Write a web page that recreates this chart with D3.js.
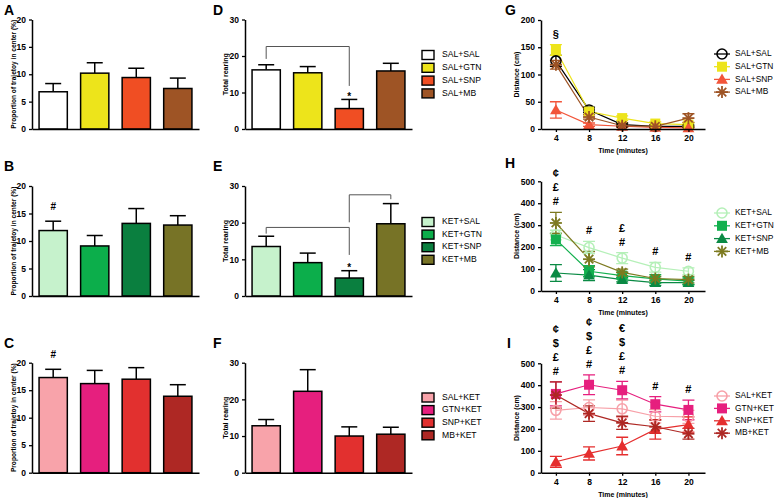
<!DOCTYPE html>
<html>
<head>
<meta charset="utf-8">
<script src="https://d3js.org/d3.v7.min.js"></script>
<style>
  body { margin: 0; background: #fff; }
  text { font-family: Arial, "Liberation Sans", sans-serif; }
</style>
</head>
<body>
<script>
// ---- data ----
const groupsA = ["SAL+SAL", "SAL+GTN", "SAL+SNP", "SAL+MB"];
const groupsB = ["KET+SAL", "KET+GTN", "KET+SNP", "KET+MB"];
const groupsC = ["SAL+KET", "GTN+KET", "SNP+KET", "MB+KET"];

const colorsA = ["#ffffff", "#ede41b", "#f04e23", "#9e5425"];
const colorsB = ["#c6f2cc", "#0cae4b", "#0a7f3f", "#777326"];
const colorsC = ["#f8a3aa", "#e61f7e", "#e2302f", "#ae2824"];

// proportion of trajectory in center (%)
const centerA = [6.8, 10.2, 9.4, 7.4];
const centerSemA = [1.5, 1.9, 1.7, 1.9];
const centerB = [11.9, 9.1, 13.2, 12.9];
const centerSemB = [1.7, 1.9, 2.7, 1.7];
const centerC = [17.3, 16.2, 17.0, 13.9];
const centerSemC = [1.5, 2.4, 2.1, 2.1];

// total rearing
const rearD = [16.2, 15.4, 5.6, 15.9];
const rearSemD = [1.4, 1.7, 2.5, 2.1];
const rearE = [13.5, 9.1, 4.9, 19.7];
const rearSemE = [2.8, 2.6, 2.0, 5.5];
const rearF = [12.8, 22.2, 10.0, 10.5];
const rearSemF = [1.7, 5.9, 2.5, 1.9];

// distance (cm) over time
const times = [4, 8, 12, 16, 20];
const distG = [
  [125, 35, 8, 5, 5],
  [145, 32, 20, 10, 8],
  [35, 8, 5, 3, 2],
  [118, 22, 6, 5, 20]
];
const distSemG = [
  [10, 5, 3, 2, 2],
  [10, 5, 4, 3, 3],
  [15, 3, 2, 2, 2],
  [8, 4, 3, 3, 8]
];
const distH = [
  [255, 198, 150, 108, 90],
  [235, 90, 70, 55, 45],
  [82, 72, 52, 38, 38],
  [310, 145, 85, 57, 52]
];
const distSemH = [
  [22, 28, 25, 22, 15],
  [28, 25, 15, 20, 15],
  [38, 25, 10, 12, 10],
  [48, 35, 15, 10, 15]
];
const distI = [
  [285, 298, 292, 258, 255],
  [360, 402, 377, 313, 287],
  [50, 88, 122, 198, 220],
  [355, 270, 228, 210, 178]
];
const distSemI = [
  [40, 35, 40, 30, 30],
  [55, 45, 40, 35, 45],
  [25, 30, 40, 45, 35],
  [60, 35, 30, 30, 25]
];
const lineColorsG = ["#000000", "#ede41b", "#f2553a", "#9e5425"];
const lineColorsH = ["#b5f0b8", "#13b04e", "#0a8a44", "#7d7a20"];
const lineColorsI = ["#f7a0a8", "#e61f7e", "#e52e2e", "#ae2824"];
const markers = ["circle", "square", "triangle", "asterisk"];

// significance marks (bottom to top)
const marksG = [["§"], [], [], [], []];
const marksH = [["#", "£", "¢"], ["#"], ["#", "£"], ["#"], ["#"]];
const marksI = [["#", "£", "$", "¢"], ["#", "£", "$", "¢"], ["#", "£", "$", "€"], ["#"], ["#"]];

const svg = d3.select("body").append("svg")
    .attr("width", 778)
    .attr("height", 498);

function letter(t, x, y) {
  svg.append("text").attr("x", x).attr("y", y)
    .attr("font-size", 14).attr("font-weight", "bold").text(t);
}

function styleAxis(g) {
  g.select(".domain").attr("stroke", "#000").attr("stroke-width", 1.5);
  g.selectAll(".tick line").attr("stroke", "#000").attr("stroke-width", 1.3);
  g.selectAll(".tick text").attr("font-size", 8.5).attr("font-weight", "bold")
    .attr("font-family", "Arial, 'Liberation Sans', sans-serif").attr("fill", "#000");
}

function yLabel(t, x, yc, size) {
  svg.append("text")
    .attr("transform", "translate(" + x + "," + yc + ") rotate(-90)")
    .attr("text-anchor", "middle").attr("dominant-baseline", "middle")
    .attr("font-size", size).attr("font-weight", "bold").text(t);
}

function barPanel(o) {
  const g = svg.append("g");
  const x = d3.scaleBand().domain(o.cats).range([o.x0, o.x1])
    .paddingInner(0.32).paddingOuter(0.17);
  const y = d3.scaleLinear().domain([0, o.max]).range([o.yBot, o.yTop]);

  // error bars (upper only)
  o.cats.forEach(function(c, i) {
    const cx = x(c) + x.bandwidth() / 2;
    g.append("line").attr("x1", cx).attr("x2", cx)
      .attr("y1", y(o.mean[i])).attr("y2", y(o.mean[i] + o.sem[i]))
      .attr("stroke", "#000").attr("stroke-width", 1.5);
    g.append("line").attr("x1", cx - 8).attr("x2", cx + 8)
      .attr("y1", y(o.mean[i] + o.sem[i])).attr("y2", y(o.mean[i] + o.sem[i]))
      .attr("stroke", "#000").attr("stroke-width", 1.5);
  });

  g.selectAll("rect.bar").data(o.cats).enter().append("rect")
    .attr("class", "bar")
    .attr("x", function(d) { return x(d); })
    .attr("y", function(d, i) { return y(o.mean[i]); })
    .attr("width", x.bandwidth())
    .attr("height", function(d, i) { return y(0) - y(o.mean[i]); })
    .attr("fill", function(d, i) { return o.colors[i]; })
    .attr("stroke", "#000").attr("stroke-width", 1.5);

  const ya = g.append("g").attr("transform", "translate(" + o.x0 + ",0)")
    .call(d3.axisLeft(y).tickValues(o.ticks).tickSize(3).tickSizeOuter(0));
  styleAxis(ya);
  const xa = g.append("g").attr("transform", "translate(0," + o.yBot + ")")
    .call(d3.axisBottom(x).tickValues([]).tickSizeOuter(0));
  styleAxis(xa);

  yLabel(o.ylabel, o.ylabelX, (o.yTop + o.yBot) / 2, o.ylabelSize);

  // hash marks above bars
  (o.hash || []).forEach(function(h) {
    const cx = x(o.cats[h.i]) + x.bandwidth() / 2;
    g.append("text").attr("x", cx).attr("y", y(o.mean[h.i] + o.sem[h.i]) - 11)
      .attr("text-anchor", "middle").attr("font-size", 10).attr("font-weight", "bold")
      .text(h.t);
  });

  // comparison brackets
  (o.brackets || []).forEach(function(b) {
    const xa0 = x(o.cats[b.a]) + x.bandwidth() / 2;
    const xb0 = x(o.cats[b.b]) + x.bandwidth() / 2;
    g.append("path")
      .attr("d", "M" + xa0 + "," + y(b.endA) + "V" + y(b.level) + "H" + xb0 + "V" + y(b.endB))
      .attr("fill", "none").attr("stroke", "#555").attr("stroke-width", 1);
  });
  (o.stars || []).forEach(function(i) {
    const cx = x(o.cats[i]) + x.bandwidth() / 2;
    g.append("text").attr("x", cx).attr("y", y(o.mean[i] + o.sem[i]) + 0.5)
      .attr("text-anchor", "middle").attr("font-size", 10).attr("font-weight", "bold")
      .text("*");
  });

  // legend
  if (o.legX === undefined) return;
  const lg = svg.append("g");
  o.cats.forEach(function(c, i) {
    const ly = o.legY + i * o.legStep;
    lg.append("rect").attr("x", o.legX).attr("y", ly - 4.5).attr("width", 12).attr("height", 9)
      .attr("fill", o.colors[i]).attr("stroke", "#000").attr("stroke-width", 1.4);
    lg.append("text").attr("x", o.legX + 20).attr("y", ly).attr("dominant-baseline", "middle")
      .attr("font-size", 8.6).text(c);
  });
}

function drawMarker(g, type, color, cx, cy) {
  if (type === "circle") {
    g.append("circle").attr("cx", cx).attr("cy", cy).attr("r", 5)
      .attr("fill", "none").attr("stroke", color).attr("stroke-width", 1.6);
  } else if (type === "square") {
    g.append("rect").attr("x", cx - 5).attr("y", cy - 5).attr("width", 10).attr("height", 10)
      .attr("fill", color);
  } else if (type === "triangle") {
    g.append("path").attr("transform", "translate(" + cx + "," + (cy + 1) + ")")
      .attr("d", d3.symbol().type(d3.symbolTriangle).size(60)()).attr("fill", color);
  } else {
    [0, 45, 90, 135].forEach(function(a) {
      const r = a * Math.PI / 180, l = 6;
      g.append("line")
        .attr("x1", cx - l * Math.cos(r)).attr("y1", cy - l * Math.sin(r))
        .attr("x2", cx + l * Math.cos(r)).attr("y2", cy + l * Math.sin(r))
        .attr("stroke", color).attr("stroke-width", 1.8);
    });
  }
}

function linePanel(o) {
  const g = svg.append("g");
  const x = d3.scaleLinear().domain([2.2, 22]).range([o.x0, o.x1]);
  const y = d3.scaleLinear().domain([0, o.max]).range([o.yBot, o.yTop]);
  const line = d3.line().x(function(d, i) { return x(times[i]); }).y(function(d) { return y(d); });

  o.series.forEach(function(s, k) {
    g.append("path").datum(s).attr("d", line)
      .attr("fill", "none").attr("stroke", o.colors[k]).attr("stroke-width", 1.2);
  });
  o.series.forEach(function(s, k) {
    s.forEach(function(v, i) {
      const e = o.sem[k][i], cx = x(times[i]);
      g.append("path")
        .attr("d", "M" + (cx - 6) + "," + y(v + e) + "H" + (cx + 6) +
                   "M" + cx + "," + y(v + e) + "V" + y(Math.max(0, v - e)) +
                   "M" + (cx - 6) + "," + y(Math.max(0, v - e)) + "H" + (cx + 6))
        .attr("fill", "none").attr("stroke", o.colors[k]).attr("stroke-width", 1.3);
    });
  });
  o.series.forEach(function(s, k) {
    s.forEach(function(v, i) {
      drawMarker(g, markers[k], o.colors[k], x(times[i]), y(v));
    });
  });

  const ya = g.append("g").attr("transform", "translate(" + o.x0 + ",0)")
    .call(d3.axisLeft(y).tickValues(o.ticks).tickSize(3).tickSizeOuter(0));
  styleAxis(ya);
  const xa = g.append("g").attr("transform", "translate(0," + o.yBot + ")")
    .call(d3.axisBottom(x).tickValues(times).tickSize(3).tickSizeOuter(0));
  styleAxis(xa);

  yLabel("Distance (cm)", o.x0 - 24, (o.yTop + o.yBot) / 2, 7);
  svg.append("text").attr("x", (o.x0 + o.x1) / 2).attr("y", o.yBot + 24)
    .attr("text-anchor", "middle").attr("font-size", 7).attr("font-weight", "bold")
    .text("Time (minutes)");

  // significance marks
  o.marks.forEach(function(m, i) {
    let top = 0;
    o.series.forEach(function(s, k) { top = Math.max(top, s[i] + o.sem[k][i]); });
    m.forEach(function(t, j) {
      g.append("text").attr("x", x(times[i])).attr("y", y(top) - 7 - j * 14)
        .attr("text-anchor", "middle").attr("font-size", 11).attr("font-weight", "bold")
        .text(t);
    });
  });

  // legend
  const lg = svg.append("g");
  o.names.forEach(function(n, k) {
    const ly = o.legY + k * o.legStep;
    lg.append("line").attr("x1", o.legX - 8).attr("x2", o.legX + 8).attr("y1", ly).attr("y2", ly)
      .attr("stroke", o.colors[k]).attr("stroke-width", 1.3);
    drawMarker(lg, markers[k], o.colors[k], o.legX, ly);
    lg.append("text").attr("x", o.legX + 13).attr("y", ly).attr("dominant-baseline", "middle")
      .attr("font-size", 8.4).text(n);
  });
}

const propLabel = "Proportion of trajetoy in center (%)";

// row 1
barPanel({cats: groupsA, mean: centerA, sem: centerSemA, colors: colorsA,
  x0: 32, x1: 199, yTop: 19.5, yBot: 129, max: 20, ticks: [0, 5, 10, 15, 20],
  ylabel: propLabel, ylabelX: 14, ylabelSize: 6.6});
barPanel({cats: groupsA, mean: rearD, sem: rearSemD, colors: colorsA,
  x0: 245, x1: 412, yTop: 19.5, yBot: 129, max: 30, ticks: [0, 10, 20, 30],
  ylabel: "Total rearing", ylabelX: 226, ylabelSize: 7, legX: 422, legY: 55, legStep: 12.8,
  brackets: [{a: 0, b: 2, level: 22.6, endA: 19.2, endB: 11.8}], stars: [2]});
linePanel({series: distG, sem: distSemG, colors: lineColorsG, names: groupsA, marks: marksG,
  x0: 541, x1: 705, yTop: 20, yBot: 129, max: 200, ticks: [0, 50, 100, 150, 200],
  legX: 722, legY: 54, legStep: 12.7});

// row 2
barPanel({cats: groupsB, mean: centerB, sem: centerSemB, colors: colorsB,
  x0: 32, x1: 199, yTop: 186, yBot: 296, max: 20, ticks: [0, 5, 10, 15, 20],
  ylabel: propLabel, ylabelX: 14, ylabelSize: 6.6, hash: [{i: 0, t: "#"}]});
barPanel({cats: groupsB, mean: rearE, sem: rearSemE, colors: colorsB,
  x0: 245, x1: 412, yTop: 186, yBot: 296, max: 30, ticks: [0, 10, 20, 30],
  ylabel: "Total rearing", ylabelX: 226, ylabelSize: 7, legX: 422, legY: 222, legStep: 12.6,
  brackets: [{a: 0, b: 2, level: 18.7, endA: 17.0, endB: 11.2},
             {a: 2, b: 3, level: 27.6, endA: 20.1, endB: 26.4}], stars: [2]});
linePanel({series: distH, sem: distSemH, colors: lineColorsH, names: groupsB, marks: marksH,
  x0: 541, x1: 705, yTop: 181.3, yBot: 291, max: 500, ticks: [0, 100, 200, 300, 400, 500],
  legX: 722, legY: 213, legStep: 12.8});

// row 3
barPanel({cats: groupsC, mean: centerC, sem: centerSemC, colors: colorsC,
  x0: 32, x1: 199, yTop: 362.7, yBot: 472.7, max: 20, ticks: [0, 5, 10, 15, 20],
  ylabel: propLabel, ylabelX: 14, ylabelSize: 6.6, hash: [{i: 0, t: "#"}]});
barPanel({cats: groupsC, mean: rearF, sem: rearSemF, colors: colorsC,
  x0: 245, x1: 412, yTop: 362.7, yBot: 472.7, max: 30, ticks: [0, 10, 20, 30],
  ylabel: "Total rearing", ylabelX: 226, ylabelSize: 7, legX: 422, legY: 397.5, legStep: 12.6});
linePanel({series: distI, sem: distSemI, colors: lineColorsI, names: groupsC, marks: marksI,
  x0: 541, x1: 705, yTop: 363.3, yBot: 472.7, max: 500, ticks: [0, 100, 200, 300, 400, 500],
  legX: 722, legY: 396, legStep: 12.4});

letter("A", 4, 15); letter("D", 213, 15); letter("G", 505, 15);
letter("B", 4, 171); letter("E", 213, 171); letter("H", 505, 168);
letter("C", 4, 348); letter("F", 213, 348); letter("I", 507, 348);
</script>
</body>
</html>
